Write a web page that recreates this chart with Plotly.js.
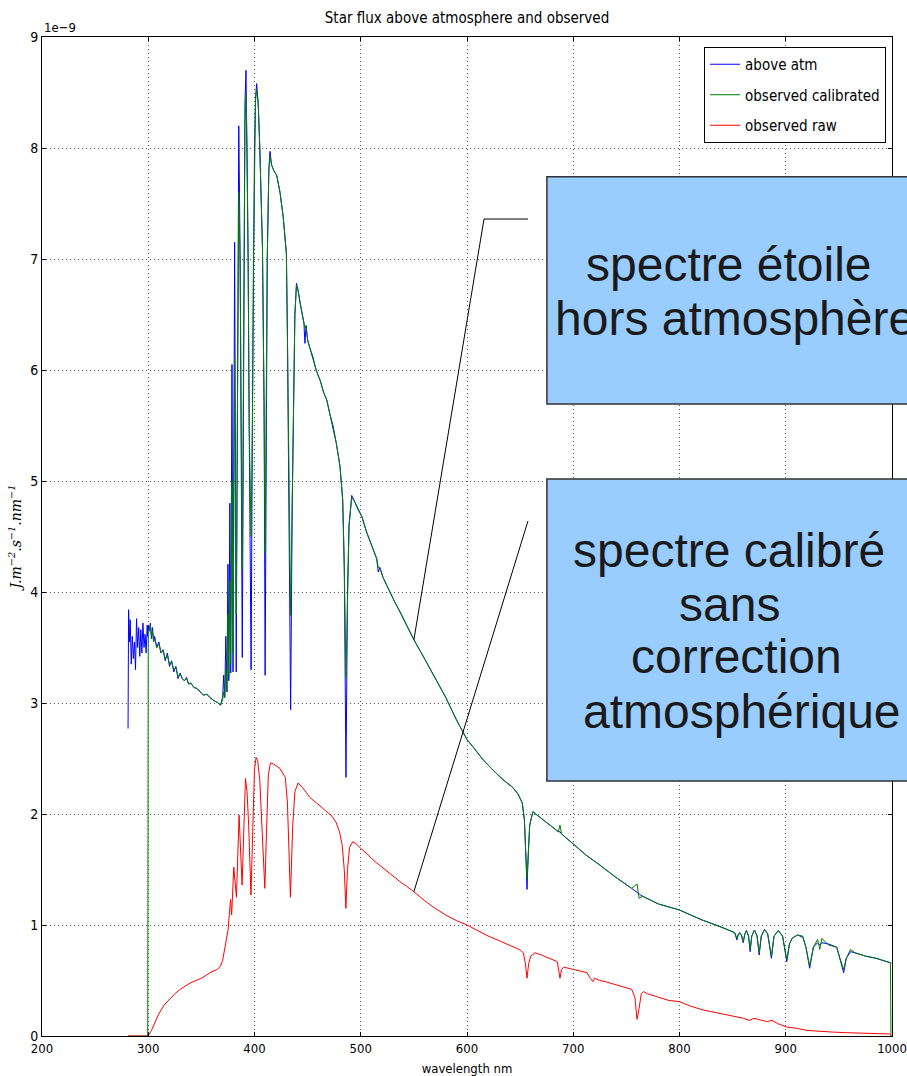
<!DOCTYPE html>
<html>
<head>
<meta charset="utf-8">
<script src="https://cdn.plot.ly/plotly-3.0.1.min.js"></script>
<style>html,body{margin:0;padding:0;background:#fff;}#chart{width:907px;height:1076px;}</style>
</head>
<body>
<div id="chart"></div>
<script>
// wavelength grid (nm) for the "above atm" and "observed calibrated" spectra
const wl = [281,281.5,282.5,283,284,285,286,287,288,289,
290,291,292,293,294,295,296,297,298,299,
299.5,300,301,302,303,304,305,306,308,310,
312,314,316,318,320,322,324,326,328,330,
332,334,336,338,340,343,346,349,352,355,
358,362,366,368,370,371,372,373,374,375,
375.8,376.8,377.6,378.8,379.8,381.3,382.8,385.2,386.5,388.5,
390,391,392,393,394,395,396.8,398,399,400,
401,402,403.5,405,407.5,409,410,411,412,413.5,
414.6,416,418,421,424,427,430,431,432.5,434,
435.5,437,438,439.5,441,443,445,446.5,447.5,448.5,
450,452,455,458,462,465,468,471,474,477,
480.5,483,484.5,486.1,487.5,489,491.5,494,497,501,
505.5,509,512,515,516.5,518,521,524,527.5,532,
537,543,550,560,570,580,590,600,606,615,
625,635,643,648,652,654,655.5,656.5,657.5,659,
662,670,680,686,687.5,689,700,712,725,740,
755,760,762,765,780,800,820,840,850,852,
854,855.5,857,858.5,860,861.5,863,865,866.5,868,870.5,873,875,877,880,883,886.5,889,893,897,
901,903.5,906,911,916,919,922.5,926,930,932,934,
940,948,951,954.5,957,961,965,975,985,995,
998.5,999];

// flux above atmosphere (units of 1e-9 J.m-2.s-1.nm-1)
const aboveAtm = [2.77,3.84,3.55,3.75,3.35,3.6,3.4,3.55,3.3,3.76,
3.5,3.68,3.42,3.66,3.45,3.72,3.5,3.62,3.45,3.7,
3.6,3.7,3.65,3.72,3.58,3.68,3.55,3.6,3.5,3.55,
3.45,3.48,3.38,3.45,3.33,3.38,3.28,3.33,3.22,3.27,
3.22,3.2,3.23,3.17,3.18,3.14,3.13,3.1,3.07,3.08,
3.05,3.02,3.0,2.98,3.05,3.25,3.05,3.6,3.1,4.25,
3.2,4.8,3.27,6.05,3.28,7.15,3.28,8.2,7.0,3.41,
7.5,8.4,8.7,8.0,7.0,5.5,3.3,5.5,7.0,8.0,
8.45,8.58,8.4,8.0,7.1,5.7,3.25,5.7,7.0,7.8,
7.97,7.85,7.8,7.75,7.6,7.38,7.05,6.3,4.8,2.94,
4.8,6.0,6.5,6.78,6.72,6.6,6.5,6.42,6.24,6.4,
6.27,6.2,6.12,6.0,5.9,5.8,5.73,5.6,5.5,5.34,
5.13,4.83,4.23,2.33,4.0,4.6,4.87,4.82,4.75,4.68,
4.54,4.45,4.38,4.3,4.18,4.22,4.13,4.07,3.99,3.91,
3.82,3.7,3.57,3.4,3.22,3.05,2.85,2.67,2.6,2.49,
2.39,2.3,2.24,2.18,2.1,1.95,1.6,1.32,1.6,1.9,
2.02,1.96,1.88,1.84,1.84,1.82,1.73,1.63,1.54,1.43,
1.33,1.29,1.28,1.26,1.19,1.135,1.05,0.98,0.94,0.93,
0.865,0.92,0.93,0.9,0.84,0.92,0.95,0.9,0.76,0.9,0.955,0.9,0.73,0.9,0.96,0.92,0.70,0.9,0.95,0.9,
0.67,0.83,0.88,0.91,0.89,0.8,0.61,0.8,0.84,0.82,0.84,
0.83,0.8,0.7,0.57,0.7,0.76,0.75,0.72,0.7,0.67,
0.66,0.65];

// observed flux, calibrated (no atmospheric correction)
const obsCalibrated = [0,0,0,0,0,0,0,0,0,0,
0,0,0,0,0,0,0,0,0,0,
0,3.62,3.66,3.7,3.6,3.65,3.56,3.58,3.5,3.53,
3.45,3.47,3.4,3.43,3.35,3.37,3.3,3.32,3.24,3.26,
3.22,3.2,3.22,3.17,3.18,3.14,3.13,3.1,3.07,3.08,
3.05,3.02,3.0,2.98,3.03,3.1,3.05,3.3,3.1,3.8,
3.25,4.1,3.35,5.0,3.45,6.1,3.8,7.6,6.9,4.2,
7.4,8.2,8.48,8.0,7.0,5.5,4.5,5.5,7.0,8.0,
8.43,8.52,8.4,8.0,7.1,5.7,4.35,5.7,7.0,7.8,
7.93,7.85,7.8,7.75,7.6,7.38,7.05,6.3,4.8,3.79,
4.8,6.0,6.5,6.76,6.72,6.6,6.5,6.42,6.38,6.4,
6.27,6.2,6.12,6.0,5.9,5.8,5.73,5.6,5.5,5.34,
5.13,4.83,4.23,3.23,4.0,4.6,4.85,4.82,4.75,4.68,
4.54,4.45,4.38,4.3,4.22,4.22,4.13,4.07,3.99,3.91,
3.82,3.7,3.57,3.4,3.22,3.05,2.85,2.67,2.6,2.49,
2.39,2.3,2.24,2.18,2.1,1.95,1.6,1.42,1.6,1.9,
2.02,1.96,1.88,1.84,1.9,1.82,1.73,1.63,1.54,1.43,
1.33,1.37,1.24,1.26,1.19,1.135,1.05,0.98,0.94,0.93,
0.88,0.92,0.93,0.9,0.85,0.92,0.95,0.9,0.78,0.9,0.955,0.9,0.75,0.9,0.96,0.92,0.72,0.9,0.95,0.9,
0.69,0.83,0.88,0.91,0.9,0.8,0.63,0.8,0.87,0.78,0.88,
0.82,0.8,0.7,0.6,0.7,0.78,0.75,0.72,0.7,0.67,
0.66,0];

// wavelength grid (nm) for the raw observed spectrum
const wlRaw = [281,299.5,300,303,306,310,315,320,325,330,
335,340,345,350,355,360,365,368,370,372,
374,375,377.5,378.5,380.5,383,385.5,388.3,391.5,393,
394.5,396.7,398.5,400,401.5,403,405,407,409.7,411.5,
413,415,418,421,424,427,429,431,433.8,436,
438,441,445,449,452,457,462,468,473,477,
480,482.5,484.5,486,487.5,489.5,492.5,496,500,506,
510,515,520,525,530,537,543,550,560,570,
580,590,600,610,620,630,640,650,653,655,
656.5,658,660,664,670,680,685,686.5,687.5,689,
691,700,710,713,716,718.5,720,725,730,740,
750,755,758,760,762,764,766,770,780,790,
800,810,822,830,840,854,860,866,870,876,
882,887,893,901,910,920,932,945,957,970,
985,998,999];

// observed flux, raw
const obsRaw = [0,0,0,0.05,0.12,0.2,0.28,0.33,0.38,0.42,
0.45,0.48,0.5,0.52,0.55,0.58,0.6,0.63,0.68,0.8,
0.92,0.95,1.23,1.09,1.52,1.25,1.99,1.36,2.32,2.2,
1.9,1.27,1.9,2.4,2.51,2.48,2.3,1.9,1.33,1.9,
2.35,2.46,2.45,2.43,2.41,2.36,2.33,2.1,1.25,1.9,
2.2,2.28,2.24,2.19,2.15,2.11,2.07,2.02,1.98,1.92,
1.84,1.72,1.5,1.15,1.5,1.7,1.75,1.73,1.69,1.64,
1.6,1.56,1.52,1.48,1.44,1.39,1.35,1.3,1.22,1.15,
1.09,1.04,1.0,0.95,0.9,0.86,0.82,0.775,0.75,0.65,
0.52,0.65,0.72,0.75,0.73,0.69,0.67,0.58,0.52,0.6,
0.62,0.6,0.58,0.57,0.52,0.49,0.52,0.5,0.49,0.46,
0.43,0.42,0.35,0.15,0.25,0.38,0.4,0.38,0.35,0.32,
0.31,0.27,0.235,0.22,0.2,0.17,0.16,0.14,0.16,0.145,
0.13,0.14,0.11,0.08,0.07,0.05,0.04,0.035,0.03,0.028,
0.022,0.018,0.005];

const seriesNames = ['above atm', 'observed calibrated', 'observed raw'];
const xTicks = [200,300,400,500,600,700,800,900,1000];
const yTicks = [0,1,2,3,4,5,6,7,8,9];
const boxText1 = ['spectre étoile', 'hors atmosphère'];
const boxText2 = ['spectre calibré', 'sans', 'correction', 'atmosphérique'];
const pointerWl = 550;

const mplFont = 'DejaVu Sans Condensed, DejaVu Sans, sans-serif';

const traces = [
  {x: wl, y: aboveAtm, name: seriesNames[0], type: 'scatter', mode: 'lines',
   line: {color: '#0000ff', width: 1}, legendgroup: 'a'},
  {x: wl, y: obsCalibrated, name: seriesNames[1], type: 'scatter', mode: 'lines',
   line: {color: '#007f00', width: 1}, legendgroup: 'b'},
  {x: wlRaw, y: obsRaw, name: seriesNames[2], type: 'scatter', mode: 'lines',
   line: {color: '#ff0000', width: 1}, legendgroup: 'c'}
];

const tipAbove = aboveAtm[wl.indexOf(pointerWl)];
const tipRaw = obsRaw[wlRaw.indexOf(pointerWl)];

const shapes = [
  {type: 'path', xref: 'x', yref: 'y',
   path: `M657.4,7.36 L616,7.36 L${pointerWl},${tipAbove}`,
   line: {color: '#000', width: 1}, layer: 'above'},
  {type: 'line', xref: 'x', yref: 'y', x0: 657.4, y0: 4.64, x1: pointerWl, y1: tipRaw,
   line: {color: '#000', width: 1}, layer: 'above'},
  {type: 'rect', xref: 'paper', yref: 'paper', x0: 0.594, x1: 1.03, y0: 0.6326, y1: 0.86,
   fillcolor: '#99ccff', line: {color: '#333', width: 1.5}, layer: 'above'},
  {type: 'rect', xref: 'paper', yref: 'paper', x0: 0.594, x1: 1.03, y0: 0.2553, y1: 0.5576,
   fillcolor: '#99ccff', line: {color: '#333', width: 1.5}, layer: 'above'}
];

const boxFont = {family: 'Liberation Sans, Arial, sans-serif', size: 48, color: '#1a1a1a'};
const box1X = [0.8082, 0.8153];
const box1Y = [0.7718, 0.7187];
const box2X = [0.8088, 0.8094, 0.8165, 0.8241];
const box2Y = [0.4855, 0.4324, 0.3794, 0.3253];

const annotations = [
  {text: '1e\u22129', xref: 'paper', yref: 'paper', x: 0, y: 1.01, xanchor: 'left', yanchor: 'middle',
   showarrow: false, font: {family: mplFont, size: 13, color: '#000'}}
];
boxText1.forEach((t, i) => annotations.push({text: t, xref: 'paper', yref: 'paper', x: box1X[i], y: box1Y[i],
  xanchor: 'center', yanchor: 'middle', showarrow: false, font: boxFont}));
boxText2.forEach((t, i) => annotations.push({text: t, xref: 'paper', yref: 'paper', x: box2X[i], y: box2Y[i],
  xanchor: 'center', yanchor: 'middle', showarrow: false, font: boxFont}));

const axisCommon = {
  showline: true, linecolor: '#000', linewidth: 1, mirror: 'allticks',
  ticks: 'inside', ticklen: 4, tickcolor: '#000',
  showgrid: true, gridcolor: '#555', griddash: '1px,3px', gridwidth: 1,
  zeroline: false
};

const layout = {
  width: 907, height: 1076,
  margin: {l: 42, r: 15, t: 37, b: 40},
  paper_bgcolor: '#fff', plot_bgcolor: '#fff',
  title: {text: 'Star flux above atmosphere and observed', xref: 'paper', x: 0.5, xanchor: 'center',
          yref: 'container', y: 0.9833, yanchor: 'middle',
          font: {family: mplFont, size: 15, color: '#000'}},
  xaxis: Object.assign({}, axisCommon, {
    range: [200, 1000], tickvals: xTicks, ticktext: xTicks.map(String),
    tickfont: {family: mplFont, size: 13, color: '#000'},
    title: {text: 'wavelength nm', standoff: 9, font: {family: mplFont, size: 13, color: '#000'}},
    automargin: false
  }),
  yaxis: Object.assign({}, axisCommon, {
    range: [0, 9], tickvals: yTicks, ticktext: yTicks.map(String),
    tickfont: {family: mplFont, size: 14, color: '#000'},
    title: {text: '<i>J.m<sup>\u22122</sup>.s<sup>\u22121</sup>.nm<sup>\u22121</sup></i>', standoff: 5,
            font: {family: 'DejaVu Serif, Liberation Serif, serif', size: 14, color: '#000'}},
    automargin: false
  }),
  showlegend: true,
  legend: {x: 0.993, xanchor: 'right', y: 0.99, yanchor: 'top',
           bgcolor: '#fff', bordercolor: '#000', borderwidth: 1,
           traceorder: 'grouped', tracegroupgap: 8,
           font: {family: mplFont, size: 15, color: '#000'}},
  shapes: shapes,
  annotations: annotations
};

Plotly.newPlot('chart', traces, layout, {displayModeBar: false, staticPlot: true});
</script>
</body>
</html>
